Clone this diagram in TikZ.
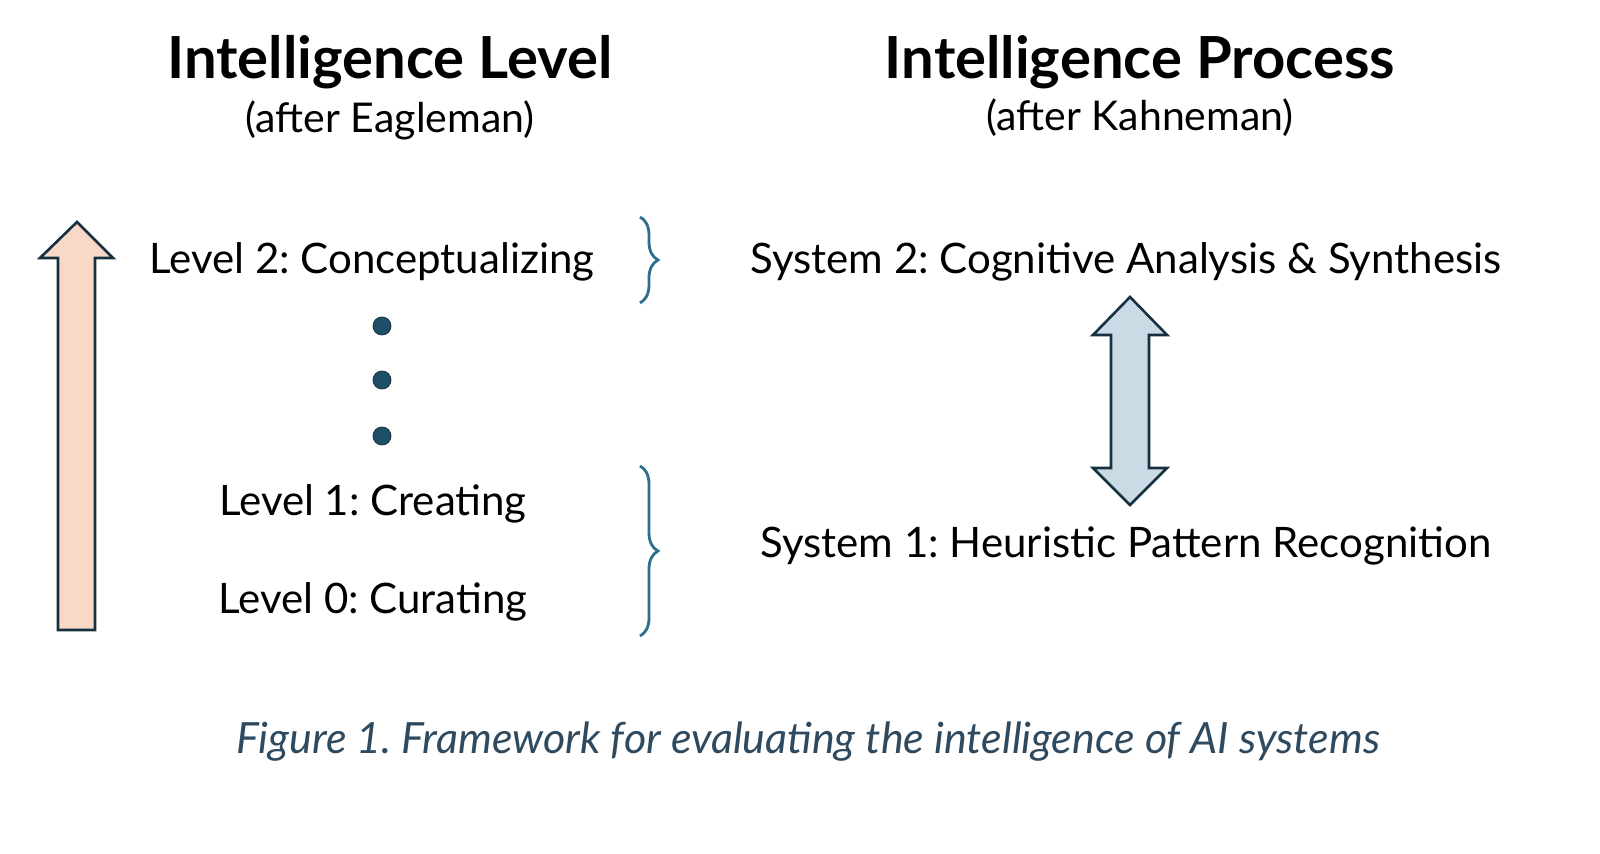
\documentclass[tikz,border=0pt]{standalone}
\usepackage{fontspec}
\setmainfont{Lato}
\usetikzlibrary{decorations.pathreplacing}

\definecolor{peach}{HTML}{F8D9C8}
\definecolor{paleblue}{HTML}{CADBE6}
\definecolor{edge}{HTML}{17303F}
\definecolor{dotblue}{HTML}{1F4E69}
\definecolor{bracecol}{HTML}{2E6E8E}
\definecolor{capcol}{HTML}{2F4A5E}

\begin{document}
\frenchspacing
\begin{tikzpicture}[
x=0.5pt, y=-0.5pt,
title/.style={font=\fontsize{29}{34}\selectfont\bfseries},
sub/.style={font=\fontsize{20.5}{25}\selectfont},
item/.style={font=\fontsize{21}{25}\selectfont},
dotmark/.style={circle, fill=dotblue, draw=edge, inner sep=0pt, minimum size=9pt},
bracket/.style={draw=bracecol, line width=1.4pt, decorate, decoration={brace, amplitude=9pt}},
bigarrow/.style={draw=edge, line width=1.3pt, line join=miter}
]

\useasboundingbox (0,0) rectangle (1600,854);

% headings
\node[title] (lvltitle) at (390,62) {Intelligence Level};
\node[sub] (lvlsub) at (390,120) {(after Eagleman)};
\node[title] (proctitle) at (1140,62) {Intelligence Process};
\node[sub] (procsub) at (1140,118) {(after Kahneman)};

% levels
\node[item] (lvl2) at (372,262) {Level 2: Conceptualizing};
\node[item] (lvl1) at (373,504) {Level 1: Creating};
\node[item] (lvl0) at (373,602) {Level 0: Curating};
\foreach \y [count=\i] in {326,380,436}
  \node[dotmark] (dot\i) at (382,\y) {};

% braces
\coordinate (b2top) at (640,217);
\coordinate (b2bot) at (640,303);
\coordinate (b1top) at (640,466);
\coordinate (b1bot) at (640,636);
\draw[bracket] (b2top) -- (b2bot);
\draw[bracket] (b1top) -- (b1bot);

% rising arrow
\draw[bigarrow, fill=peach] (58,630) -- (58,258) -- (40,258) -- (77,222) -- (113,258)
  -- (95,258) -- (95,630) -- cycle;

% systems
\node[item] (sys2) at (1126,262) {System 2: Cognitive Analysis \& Synthesis};
\node[item] (sys1) at (1126,546) {System 1: Heuristic Pattern Recognition};

% two-way arrow
\draw[bigarrow, fill=paleblue] (1130,297) -- (1167,335) -- (1149,335) -- (1149,468)
  -- (1167,468) -- (1130,505) -- (1093,468) -- (1111,468) -- (1111,335) -- (1093,335) -- cycle;

% caption
\node[font=\fontsize{21.5}{26}\selectfont\itshape, text=capcol] (caption) at (808,742)
  {Figure 1. Framework for evaluating the intelligence of AI systems};

\end{tikzpicture}
\end{document}
